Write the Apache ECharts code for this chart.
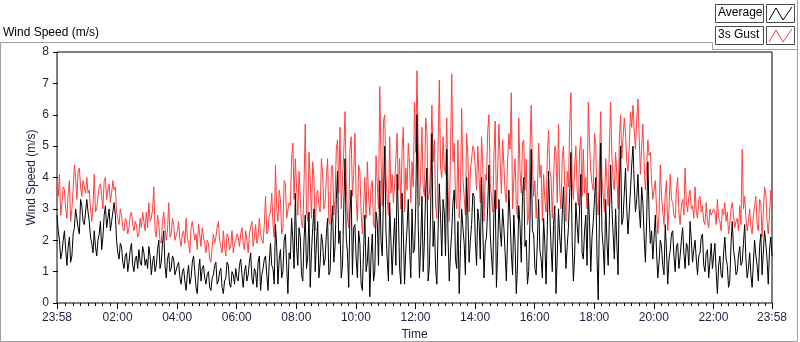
<!DOCTYPE html>
<html>
<head>
<meta charset="utf-8">
<script src="https://cdn.jsdelivr.net/npm/echarts@6/dist/echarts.min.js"></script>
<style>
  html, body { margin: 0; padding: 0; background: #fff; }
  #chart { width: 800px; height: 342px; }
</style>
</head>
<body>
<div id="chart"></div>
<script>
// time in minutes since midnight, one sample every 2.5 minutes from 23:58
var startMin = -2;
var stepMin = 2.5;

// 3s gust (m/s), one row per hour
var gust = [
  3.8, 3.4, 4.1, 2.8, 3.2, 3.7, 3.6, 3.0, 2.7, 3.5, 3.9, 2.6, 3.0, 3.6, 4.4, 4.0, 3.3, 4.2, 4.3, 3.7, 3.4, 3.9, 3.9, 3.5,
  4.0, 3.5, 3.6, 3.0, 2.6, 3.1, 4.1, 2.9, 3.0, 3.4, 3.7, 3.8, 3.4, 3.0, 3.9, 4.0, 3.3, 3.6, 3.8, 3.2, 3.5, 3.9, 3.6, 3.7,
  2.9, 2.7, 2.5, 3.0, 2.8, 2.4, 2.3, 2.7, 2.6, 2.2, 2.4, 2.8, 2.9, 2.5, 2.3, 2.6, 2.5, 2.1, 2.2, 2.7, 2.4, 2.9, 2.6, 2.3,
  2.9, 2.4, 3.2, 2.6, 2.7, 3.0, 3.7, 2.3, 2.1, 2.8, 2.5, 2.0, 1.9, 2.6, 2.9, 2.4, 2.0, 2.3, 3.2, 2.1, 2.2, 2.7, 2.5, 2.0,
  2.0, 2.3, 2.6, 2.0, 1.8, 2.2, 2.3, 1.9, 2.7, 2.1, 1.9, 1.6, 2.4, 2.6, 2.3, 2.0, 2.2, 1.7, 2.5, 2.2, 1.8, 2.4, 2.1, 1.9,
  1.6, 2.0, 1.9, 1.4, 1.3, 1.8, 2.2, 1.9, 2.1, 2.4, 2.6, 2.0, 2.0, 1.6, 2.3, 1.8, 1.5, 2.2, 2.1, 1.7, 1.8, 2.3, 1.6, 1.9,
  2.0, 2.2, 2.1, 1.8, 2.2, 2.4, 1.9, 1.7, 2.3, 2.0, 1.6, 2.2, 2.4, 2.6, 1.8, 2.1, 2.5, 1.9, 2.1, 2.7, 2.2, 2.0, 1.9, 2.5,
  3.4, 2.2, 2.3, 2.8, 2.9, 3.5, 2.5, 2.1, 4.4, 3.0, 2.6, 3.6, 3.3, 2.2, 2.4, 3.9, 3.8, 2.7, 2.7, 3.2, 3.1, 4.6, 5.1, 3.3,
  4.6, 3.7, 2.8, 4.2, 3.3, 2.5, 2.4, 3.8, 5.7, 2.9, 2.6, 4.8, 3.9, 2.7, 4.5, 4.0, 2.3, 3.4, 3.6, 3.1, 2.9, 4.6, 4.1, 3.0,
  3.2, 4.0, 4.6, 2.6, 2.5, 4.3, 4.4, 2.8, 3.3, 4.9, 5.2, 3.5, 5.6, 3.0, 3.0, 4.8, 6.1, 3.9, 2.7, 2.4, 4.9, 5.3, 3.4, 4.1,
  5.4, 3.3, 2.6, 4.4, 4.2, 2.9, 2.2, 3.1, 4.0, 2.7, 4.5, 3.4, 2.8, 3.7, 3.9, 2.5, 2.4, 4.7, 3.8, 3.0, 6.9, 4.6, 3.1, 5.8,
  6.0, 4.1, 3.3, 2.8, 5.3, 3.5, 4.1, 3.2, 3.8, 4.6, 5.4, 3.6, 4.6, 3.0, 4.9, 5.6, 2.9, 4.3, 3.6, 5.1, 4.4, 3.2, 4.5, 3.7,
  6.4, 4.8, 7.4, 5.0, 3.1, 4.2, 5.6, 3.7, 3.4, 5.9, 5.5, 3.3, 3.5, 4.4, 6.3, 4.5, 5.2, 3.1, 2.7, 5.0, 7.1, 4.3, 4.0, 5.3,
  4.3, 4.1, 5.9, 3.6, 2.6, 4.8, 7.3, 4.5, 5.1, 3.4, 3.0, 5.2, 2.7, 3.5, 6.2, 4.0, 3.4, 2.8, 5.4, 4.7, 2.9, 4.2, 4.6, 5.0,
  4.9, 4.3, 3.6, 5.0, 4.0, 3.2, 5.3, 4.4, 2.6, 4.1, 3.9, 5.5, 6.0, 3.8, 3.4, 2.9, 4.7, 5.8, 3.0, 4.2, 5.7, 4.5, 3.5, 5.2,
  4.4, 3.5, 3.2, 4.5, 5.4, 4.9, 6.7, 3.0, 3.9, 4.6, 3.1, 2.7, 5.9, 4.2, 3.5, 5.1, 5.2, 3.6, 4.6, 2.5, 2.8, 4.9, 6.3, 4.4,
  3.4, 3.9, 2.7, 3.6, 5.1, 4.0, 4.4, 2.6, 4.1, 3.3, 2.9, 4.7, 5.5, 4.2, 4.0, 2.7, 3.9, 5.0, 4.8, 3.2, 5.7, 3.6, 3.0, 4.6,
  5.0, 3.8, 2.6, 4.2, 3.7, 5.6, 6.7, 3.9, 3.3, 4.3, 5.0, 3.6, 3.1, 4.8, 5.3, 3.4, 4.9, 3.5, 4.0, 3.0, 6.4, 5.1, 4.2, 3.8,
  3.6, 5.4, 5.1, 3.2, 2.8, 4.5, 6.1, 4.0, 3.4, 2.9, 4.6, 3.9, 3.1, 5.0, 6.4, 4.7, 3.9, 3.6, 4.8, 4.1, 3.0, 5.2, 6.0, 4.6,
  4.6, 5.9, 5.4, 4.5, 4.2, 5.0, 6.1, 5.6, 6.3, 5.5, 4.9, 5.8, 6.5, 5.3, 4.1, 5.0, 5.7, 4.4, 3.6, 4.3, 5.2, 4.7, 4.8, 3.9,
  3.3, 3.6, 3.9, 3.0, 2.2, 2.8, 4.4, 3.4, 2.9, 2.5, 3.5, 3.9, 2.3, 3.0, 4.1, 3.3, 3.2, 2.8, 2.7, 3.6, 4.0, 2.9, 2.5, 3.1,
  3.3, 2.8, 4.3, 3.2, 2.9, 3.4, 3.6, 3.0, 3.1, 2.7, 3.7, 2.9, 2.7, 3.3, 3.4, 2.9, 3.1, 2.6, 2.5, 3.2, 2.6, 2.4, 3.0, 2.8,
  2.8, 3.0, 2.9, 2.5, 3.3, 2.7, 2.6, 2.3, 3.0, 2.8, 3.2, 2.6, 2.9, 2.2, 2.5, 3.0, 3.2, 2.8, 2.4, 2.6, 2.7, 2.3, 3.1, 2.5,
  4.9, 3.0, 3.4, 2.7, 2.3, 2.6, 3.0, 2.4, 2.2, 2.8, 3.1, 3.4, 2.5, 2.3, 3.3, 3.2, 2.1, 2.9, 3.7, 3.5, 2.6, 2.2, 2.8, 3.6,
  2.9
];

// average wind speed (m/s), one row per hour
var average = [
  2.8, 2.3, 2.0, 1.4, 1.6, 2.0, 2.3, 1.7, 1.2, 1.8, 2.1, 1.3, 1.5, 2.2, 2.4, 3.0, 2.7, 2.4, 2.2, 3.3, 3.1, 2.6, 2.5, 2.9,
  3.3, 2.9, 2.6, 2.1, 1.9, 1.6, 2.3, 1.8, 1.5, 2.0, 2.2, 2.6, 1.7, 2.1, 2.8, 3.1, 2.4, 2.7, 3.0, 2.3, 2.6, 2.9, 3.2, 2.8,
  2.0, 1.6, 1.4, 1.9, 1.8, 1.3, 1.1, 1.5, 1.6, 1.0, 1.3, 1.7, 1.9, 1.2, 1.0, 1.4, 1.5, 1.1, 1.7, 1.3, 1.2, 1.8, 1.6, 1.2,
  1.4, 1.1, 1.8, 1.5, 0.9, 1.3, 1.5, 1.0, 1.2, 1.7, 2.0, 1.1, 1.3, 1.9, 2.3, 1.2, 0.8, 1.4, 1.6, 1.0, 1.1, 1.5, 1.4, 0.9,
  0.9, 1.2, 1.3, 0.8, 0.6, 1.0, 1.1, 0.7, 0.4, 0.9, 1.2, 0.6, 0.8, 1.3, 1.5, 1.0, 0.5, 0.3, 1.0, 1.4, 0.7, 1.1, 1.2, 0.8,
  0.6, 0.9, 1.0, 0.5, 0.4, 0.8, 0.9, 1.2, 1.3, 0.6, 0.7, 1.0, 1.1, 0.5, 0.3, 0.7, 0.8, 1.3, 1.2, 0.6, 0.5, 1.0, 0.9, 0.6,
  1.1, 0.8, 0.7, 1.2, 1.4, 0.9, 0.5, 1.0, 1.2, 0.7, 0.9, 1.3, 1.6, 0.8, 0.6, 1.1, 1.0, 0.5, 1.3, 1.5, 0.4, 0.9, 1.1, 1.4,
  1.5, 0.9, 0.4, 1.3, 1.9, 1.2, 1.1, 0.6, 2.5, 1.8, 0.6, 1.4, 1.7, 0.8, 1.0, 2.0, 2.2, 1.2, 0.3, 1.6, 1.4, 2.7, 2.0, 1.1,
  3.5, 1.8, 1.2, 2.4, 2.1, 0.9, 0.7, 2.0, 2.8, 1.1, 1.5, 2.9, 0.5, 1.6, 2.4, 3.0, 1.0, 1.9, 2.6, 0.8, 1.3, 2.2, 1.9, 1.2,
  1.4, 2.2, 2.7, 0.9, 1.0, 2.5, 3.1, 1.3, 1.8, 3.3, 4.2, 1.9, 2.3, 0.8, 1.2, 3.0, 4.6, 2.1, 1.6, 0.5, 2.9, 3.6, 0.9, 2.4,
  2.5, 1.4, 0.8, 2.3, 1.9, 0.6, 0.4, 1.7, 2.8, 1.0, 1.3, 2.1, 0.2, 1.5, 2.2, 0.7, 1.0, 2.9, 2.6, 1.2, 3.9, 2.0, 1.5, 3.4,
  5.0, 2.3, 1.4, 0.7, 3.2, 2.0, 0.9, 1.9, 2.7, 1.2, 4.1, 2.8, 1.1, 0.6, 3.5, 2.2, 0.6, 1.7, 2.4, 3.3, 1.8, 0.8, 3.0, 1.6,
  1.7, 3.1, 6.0, 2.5, 0.8, 1.9, 3.4, 1.0, 2.0, 3.6, 4.3, 0.7, 1.2, 2.9, 5.4, 1.8, 2.6, 1.1, 0.6, 2.3, 3.8, 2.7, 1.5, 3.3,
  2.9, 1.5, 4.9, 2.1, 0.7, 1.6, 2.3, 3.2, 3.6, 1.4, 1.1, 2.6, 0.3, 1.7, 3.0, 2.4, 1.9, 0.9, 4.0, 2.8, 1.3, 2.0, 2.5, 3.5,
  3.4, 2.0, 1.2, 3.0, 2.6, 1.4, 4.0, 2.4, 0.8, 1.9, 2.1, 3.1, 4.4, 2.2, 1.5, 0.9, 2.9, 3.6, 0.5, 1.7, 3.3, 2.3, 1.8, 3.0,
  2.4, 1.6, 0.7, 2.1, 3.6, 2.7, 1.6, 0.9, 2.8, 1.9, 0.3, 1.2, 3.1, 2.5, 1.3, 3.4, 4.0, 1.8, 2.0, 0.6, 1.0, 2.6, 4.9, 2.3,
  2.2, 1.1, 0.9, 2.0, 3.3, 1.7, 1.4, 0.8, 2.7, 1.9, 0.6, 2.4, 4.2, 2.9, 1.8, 1.0, 2.5, 3.1, 0.3, 1.5, 3.0, 2.1, 1.6, 2.8,
  3.7, 2.2, 1.1, 1.8, 2.4, 3.4, 4.8, 2.0, 0.7, 1.5, 3.2, 2.5, 1.9, 3.0, 4.1, 1.6, 1.4, 2.3, 2.8, 1.2, 3.5, 2.6, 1.0, 2.1,
  2.6, 3.3, 4.0, 1.5, 0.1, 2.8, 5.1, 2.3, 1.8, 0.9, 3.3, 2.0, 1.2, 2.7, 4.4, 3.1, 2.2, 1.4, 3.0, 1.9, 0.9, 3.6, 5.0, 2.5,
  2.7, 3.5, 4.3, 3.0, 2.2, 2.9, 3.6, 4.4, 5.0, 3.8, 2.9, 3.3, 4.1, 3.0, 2.4, 3.7, 3.2, 2.1, 1.3, 2.6, 4.5, 2.8, 1.9, 2.3,
  1.4, 2.1, 2.8, 1.6, 0.8, 1.3, 2.0, 1.8, 1.2, 0.9, 2.5, 1.7, 0.6, 1.4, 1.7, 2.2, 2.3, 1.5, 1.0, 1.8, 1.9, 1.1, 1.5, 2.0,
  2.4, 1.6, 1.1, 1.9, 1.8, 1.2, 2.6, 2.0, 1.3, 1.7, 2.0, 1.4, 0.9, 1.5, 1.6, 2.1, 2.2, 1.2, 1.0, 1.6, 1.7, 0.8, 1.3, 1.9,
  1.1, 1.5, 1.9, 1.0, 0.3, 1.2, 1.5, 0.9, 0.8, 1.6, 2.1, 1.4, 1.2, 0.5, 0.7, 1.9, 2.6, 1.7, 1.4, 0.9, 1.0, 1.5, 1.8, 1.2,
  1.3, 1.9, 2.5, 1.4, 0.8, 1.1, 1.6, 0.9, 0.5, 1.3, 2.0, 1.5, 1.2, 0.7, 1.8, 2.2, 0.9, 1.6, 2.3, 1.9, 1.4, 0.6, 1.7, 2.1,
  1.5
];

// x axis labels (minutes since midnight)
var tickMinutes = [-2, 120, 240, 360, 480, 600, 720, 840, 960, 1080, 1200, 1320, 1438];
var tickLabels = ['23:58', '02:00', '04:00', '06:00', '08:00', '10:00', '12:00',
                  '14:00', '16:00', '18:00', '20:00', '22:00', '23:58'];
var minorTicks = [];
for (var m = 0; m < 1440; m += 15) {
  if (m % 120 !== 0) minorTicks.push(m);
}

var font = 'Liberation Sans';
var labelColor = '#1a2440';

function toPoints(arr) {
  return arr.map(function (v, i) { return [startMin + i * stepMin, v]; });
}

var myChart = echarts.init(document.getElementById('chart'));

var option = {
  animation: false,
  backgroundColor: '#fff',
  grid: {
    left: 57, right: 28, top: 52, bottom: 39,
    outerBoundsMode: 'none',
    show: true, borderColor: '#000', borderWidth: 1, backgroundColor: '#fff'
  },
  xAxis: [{
    type: 'value',
    min: -2,
    max: 1438,
    name: 'Time',
    nameLocation: 'middle',
    nameGap: 26,
    nameMoveOverlap: false,
    nameTextStyle: { fontFamily: font, fontSize: 12, color: labelColor },
    splitLine: { show: false },
    axisLine: { show: false },
    axisTick: { show: true, customValues: tickMinutes, length: 6, lineStyle: { color: '#000' } },
    axisLabel: {
      customValues: tickMinutes,
      fontFamily: font, fontSize: 12, color: labelColor, margin: 9,
      formatter: function (v) { return tickLabels[tickMinutes.indexOf(v)]; }
    }
  }, {
    type: 'value',
    min: -2,
    max: 1438,
    position: 'bottom',
    splitLine: { show: false },
    axisLine: { show: false },
    axisTick: { show: true, customValues: minorTicks, length: 3, lineStyle: { color: '#000' } },
    axisLabel: { show: false }
  }],
  yAxis: {
    type: 'value',
    min: 0,
    max: 8,
    interval: 1,
    name: 'Wind Speed (m/s)',
    nameLocation: 'middle',
    nameGap: 19,
    nameMoveOverlap: false,
    nameTextStyle: { fontFamily: font, fontSize: 12, color: labelColor },
    splitLine: { show: false },
    axisLine: { show: false },
    axisTick: { show: true, length: 5, lineStyle: { color: '#000' } },
    axisLabel: { fontFamily: font, fontSize: 12, color: labelColor, margin: 8 }
  },
  series: [{
    name: '3s Gust',
    type: 'line',
    data: toPoints(gust),
    showSymbol: false,
    lineStyle: { color: '#ff4040', width: 1 },
    itemStyle: { color: '#ff4040' }
  }, {
    name: 'Average',
    type: 'line',
    data: toPoints(average),
    showSymbol: false,
    lineStyle: { color: '#000', width: 1 },
    itemStyle: { color: '#000' }
  }],
  graphic: [
    // outer frame
    { type: 'polyline', shape: { points: [[0.5, 42.5], [712.5, 42.5], [712.5, 49.5], [797.5, 49.5]] }, style: { stroke: '#a0a0a0', fill: null, lineWidth: 1 } },
    { type: 'polyline', shape: { points: [[797.5, 0], [797.5, 341.5], [0.5, 341.5], [0.5, 42.5]] }, style: { stroke: '#a0a0a0', fill: null, lineWidth: 1 } },
    { type: 'text', left: 3, top: 27, style: { text: 'Wind Speed (m/s)', font: '12px "Liberation Sans"', fill: '#000' } },
    // legend
    { type: 'rect', shape: { x: 715.5, y: 4.5, width: 48, height: 18 }, style: { fill: '#fff', stroke: '#4a4a4a', lineWidth: 1 } },
    { type: 'text', left: 718, top: 7, style: { text: 'Average', font: '12px "Liberation Sans"', fill: '#000' } },
    { type: 'rect', shape: { x: 766.5, y: 4.5, width: 28, height: 18 }, style: { fill: '#fff', stroke: '#4a4a4a', lineWidth: 1 } },
    { type: 'polyline', shape: { points: [[769, 20], [776, 8], [783, 20], [792, 7]] }, style: { stroke: '#000', fill: null, lineWidth: 1 } },
    { type: 'rect', shape: { x: 715.5, y: 26.5, width: 48, height: 18 }, style: { fill: '#fff', stroke: '#4a4a4a', lineWidth: 1 } },
    { type: 'text', left: 718, top: 29, style: { text: '3s Gust', font: '12px "Liberation Sans"', fill: '#000' } },
    { type: 'rect', shape: { x: 766.5, y: 26.5, width: 28, height: 18 }, style: { fill: '#fff', stroke: '#4a4a4a', lineWidth: 1 } },
    { type: 'polyline', shape: { points: [[769, 42], [776, 30], [783, 42], [792, 29]] }, style: { stroke: '#ff4040', fill: null, lineWidth: 1 } }
  ]
};

myChart.setOption(option);
</script>
</body>
</html>
